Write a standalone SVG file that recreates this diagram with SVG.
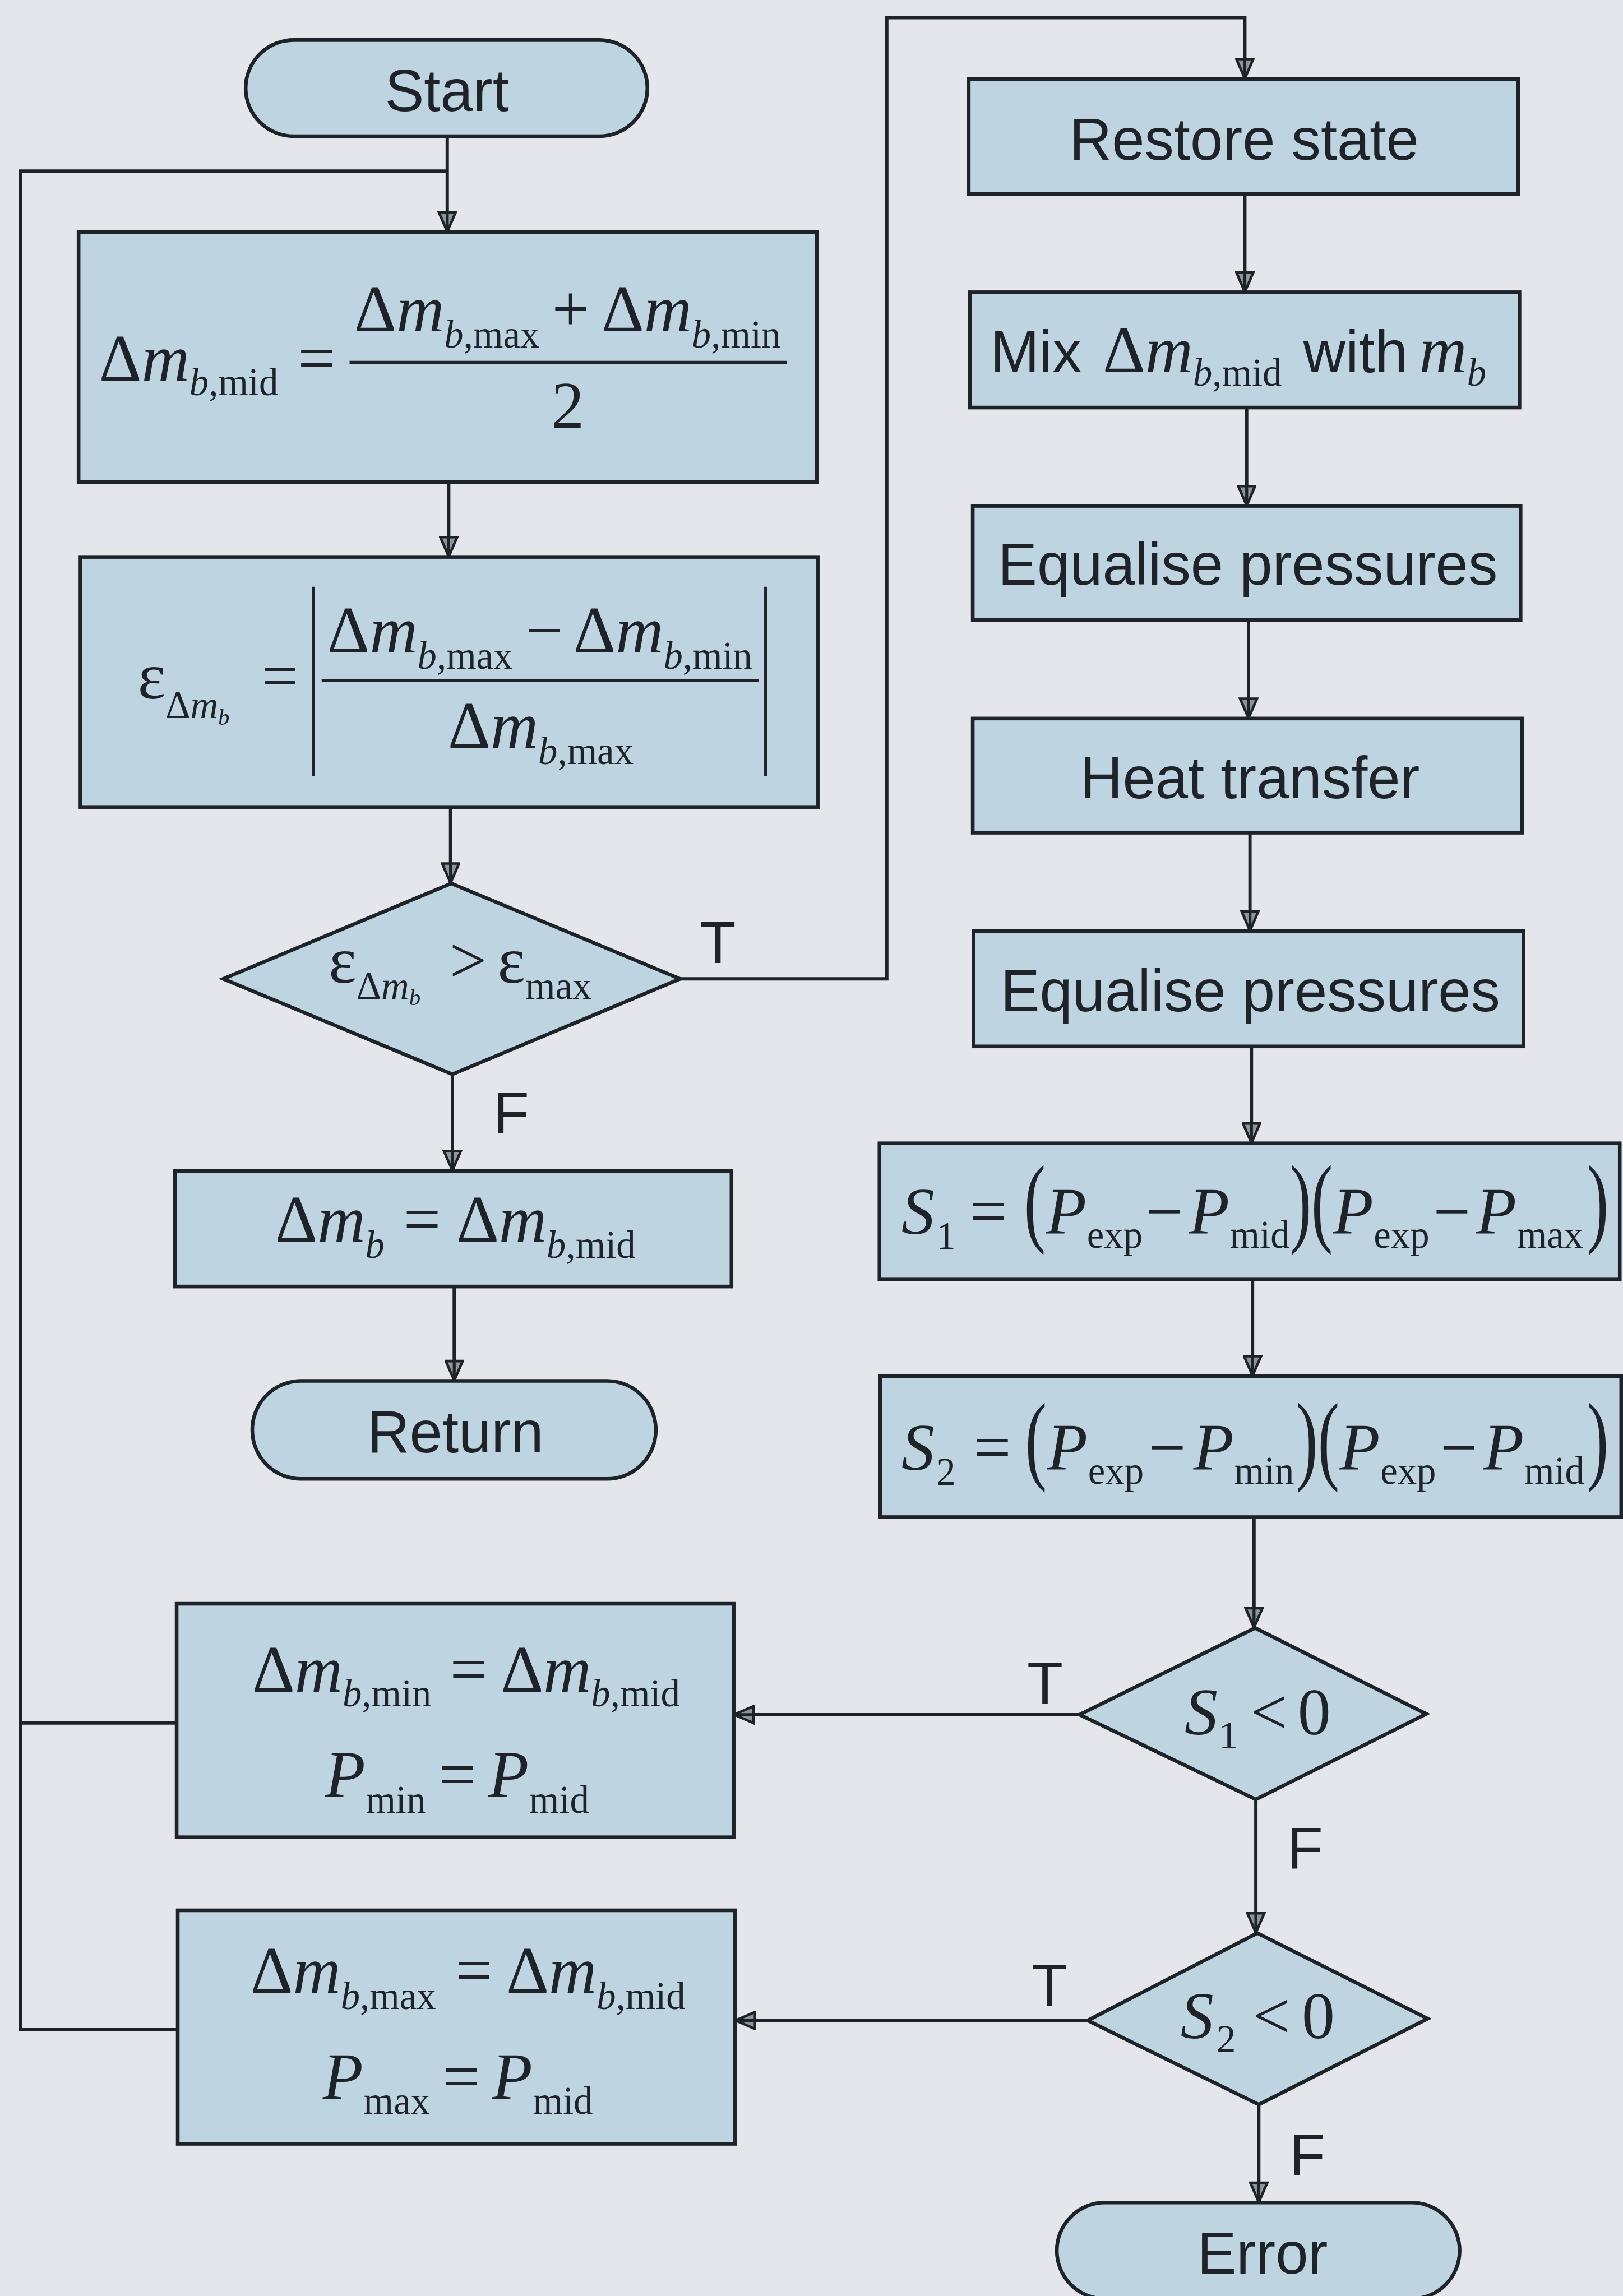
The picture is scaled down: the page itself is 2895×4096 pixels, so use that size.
<svg xmlns="http://www.w3.org/2000/svg" width="2895" height="4096" viewBox="0 0 2895 4096">
<defs>
<style>
.nd{fill:#bed4e0;stroke:#1e2329;stroke-width:10}
.a{font-family:"Liberation Sans",Arial,sans-serif;font-size:160px;fill:#1e2329}
.m{font-family:"Liberation Serif","Times New Roman",serif;font-size:180px;fill:#1e2329}
.s{font-size:105px}
.ss{font-size:62px}
.i{font-style:italic}
.p{font-family:"Liberation Serif","Times New Roman",serif;font-size:270px;fill:#1e2329}
.bar{stroke:#1e2329;stroke-width:8;fill:none}
</style>
<marker id="ah" viewBox="0 0 60 54" refX="58" refY="27" markerWidth="60" markerHeight="54" orient="auto" markerUnits="userSpaceOnUse">
<path d="M4,4 L57,27 L4,50 Z" fill="#8f959c" stroke="#1e2329" stroke-width="7" stroke-linejoin="miter"/>
<path d="M2,27 H54" stroke="#1e2329" stroke-width="8"/>
</marker>
</defs>
<g transform="scale(0.655)">
<rect x="0" y="0" width="4420" height="6254" fill="#e5e6eb"/>

<g id="connectors" fill="none" stroke="#1e2329" stroke-width="9">
<path d="M1218,371 V632" marker-end="url(#ah)"/>
<path d="M1218,466 H56 V5528 H484"/>
<path d="M481,4693 H56"/>
<path d="M1222,1313 V1517" marker-end="url(#ah)"/>
<path d="M1227,2198 V2406" marker-end="url(#ah)"/>
<path d="M1852,2666 H2415 V48 H3390 V215" marker-end="url(#ah)"/>
<path d="M1232,2926 V3189" marker-end="url(#ah)"/>
<path d="M1237,3504 V3761" marker-end="url(#ah)"/>
<path d="M3390,528 V796" marker-end="url(#ah)"/>
<path d="M3395,1110 V1378" marker-end="url(#ah)"/>
<path d="M3400,1689 V1957" marker-end="url(#ah)"/>
<path d="M3404,2268 V2536" marker-end="url(#ah)"/>
<path d="M3408,2850 V3114" marker-end="url(#ah)"/>
<path d="M3411,3485 V3748" marker-end="url(#ah)"/>
<path d="M3415,4132 V4434" marker-end="url(#ah)"/>
<path d="M2940,4670 H1998" marker-end="url(#ah)"/>
<path d="M3420,4901 V5265" marker-end="url(#ah)"/>
<path d="M2962,5503 H2002" marker-end="url(#ah)"/>
<path d="M3428,5732 V5999" marker-end="url(#ah)"/>
</g>

<g id="labels">
<text class="a" x="1906" y="2623">T</text>
<text class="a" x="1343" y="3087">F</text>
<text class="a" x="2797" y="4640">T</text>
<text class="a" x="3505" y="5090">F</text>
<text class="a" x="2809" y="5462">T</text>
<text class="a" x="3511" y="5925">F</text>
</g>

<g id="start">
<rect class="nd" x="669" y="109" width="1094" height="262" rx="131"/>
<text class="a" x="1217" y="302" text-anchor="middle">Start</text>
</g>

<g id="mid-calc">
<rect class="nd" x="214" y="632" width="2010" height="681"/>
<line class="bar" x1="952" y1="987" x2="2143" y2="987"/>
<text class="m"><tspan x="270" y="1036">Δ</tspan><tspan class="i">m</tspan><tspan class="s i" dy="40">b</tspan><tspan class="s">,mid</tspan><tspan x="811" y="1036">=</tspan><tspan x="964" y="902">Δ</tspan><tspan class="i">m</tspan><tspan class="s i" dy="44">b</tspan><tspan class="s">,max</tspan><tspan x="1503" y="902">+</tspan><tspan x="1638" y="902">Δ</tspan><tspan class="i">m</tspan><tspan class="s i" dy="44">b</tspan><tspan class="s">,min</tspan><tspan x="1501" y="1165">2</tspan></text>
</g>

<g id="error-calc">
<rect class="nd" x="219" y="1517" width="2008" height="681"/>
<line class="bar" x1="853" y1="1598" x2="853" y2="2113"/>
<line class="bar" x1="2085" y1="1598" x2="2085" y2="2113"/>
<line class="bar" x1="876" y1="1853" x2="2066" y2="1853"/>
<text class="m"><tspan x="375" y="1902">ε</tspan><tspan class="s" dy="54">Δ</tspan><tspan class="s i">m</tspan><tspan class="ss i" dy="18">b</tspan><tspan x="712" y="1902">=</tspan><tspan x="891" y="1777">Δ</tspan><tspan class="i">m</tspan><tspan class="s i" dy="44">b</tspan><tspan class="s">,max</tspan><tspan x="1431" y="1777">−</tspan><tspan x="1561" y="1777">Δ</tspan><tspan class="i">m</tspan><tspan class="s i" dy="44">b</tspan><tspan class="s">,min</tspan><tspan x="1220" y="2037">Δ</tspan><tspan class="i">m</tspan><tspan class="s i" dy="44">b</tspan><tspan class="s">,max</tspan></text>
</g>

<g id="check-error">
<polygon class="nd" points="608,2666 1229,2406 1852,2666 1232,2926"/>
<text class="m"><tspan x="895" y="2677">ε</tspan><tspan class="s" dy="43">Δ</tspan><tspan class="s i">m</tspan><tspan class="ss i" dy="18">b</tspan><tspan x="1224" y="2677">&gt;</tspan><tspan x="1355" y="2677">ε</tspan><tspan class="s" dy="43">max</tspan></text>
</g>

<g id="assign-mid">
<rect class="nd" x="476" y="3189" width="1516" height="315"/>
<text class="m"><tspan x="749" y="3382">Δ</tspan><tspan class="i">m</tspan><tspan class="s i" dy="44">b</tspan><tspan x="1099" y="3382">=</tspan><tspan x="1243" y="3382">Δ</tspan><tspan class="i">m</tspan><tspan class="s i" dy="44">b</tspan><tspan class="s">,mid</tspan></text>
</g>

<g id="return">
<rect class="nd" x="687" y="3761" width="1099" height="267" rx="133"/>
<text class="a" x="1240" y="3956" text-anchor="middle">Return</text>
</g>

<g id="restore">
<rect class="nd" x="2638" y="215" width="1496" height="313"/>
<text class="a" x="3388" y="435" text-anchor="middle">Restore state</text>
</g>

<g id="mix">
<rect class="nd" x="2641" y="796" width="1497" height="314"/>
<text class="a"><tspan x="2697" y="1013">Mix</tspan><tspan class="m" x="3003" y="1013">Δ</tspan><tspan class="m i">m</tspan><tspan class="m s i" dy="37">b</tspan><tspan class="m s">,mid</tspan><tspan x="3549" y="1013">with</tspan><tspan class="m i" x="3865" y="1013">m</tspan><tspan class="m s i" dy="37">b</tspan></text>
</g>

<g id="equalise1">
<rect class="nd" x="2649" y="1378" width="1492" height="311"/>
<text class="a" x="3398" y="1593" text-anchor="middle">Equalise pressures</text>
</g>

<g id="heat">
<rect class="nd" x="2649" y="1957" width="1496" height="311"/>
<text class="a" x="3404" y="2174" text-anchor="middle">Heat transfer</text>
</g>

<g id="equalise2">
<rect class="nd" x="2651" y="2536" width="1498" height="314"/>
<text class="a" x="3405" y="2754" text-anchor="middle">Equalise pressures</text>
</g>

<g id="s1-calc">
<rect class="nd" x="2395" y="3114" width="2016" height="371"/>
<text class="m"><tspan class="i" x="2455" y="3360">S</tspan><tspan class="s" x="2550" y="3402">1</tspan><tspan x="2640" y="3360">=</tspan><tspan class="i" x="2849" y="3360">P</tspan><tspan class="s" x="2960" y="3398">exp</tspan><tspan x="3120" y="3360">−</tspan><tspan class="i" x="3238" y="3360">P</tspan><tspan class="s" x="3349" y="3398">mid</tspan><tspan class="i" x="3630" y="3360">P</tspan><tspan class="s" x="3741" y="3398">exp</tspan><tspan x="3903" y="3360">−</tspan><tspan class="i" x="4020" y="3360">P</tspan><tspan class="s" x="4131" y="3398">max</tspan></text>
<text class="p" transform="translate(2789,3361) scale(0.65,1)">(</text>
<text class="p" transform="translate(3513,3361) scale(0.65,1)">)</text>
<text class="p" transform="translate(3571,3361) scale(0.65,1)">(</text>
<text class="p" transform="translate(4322,3361) scale(0.65,1)">)</text>
</g>

<g id="s2-calc">
<rect class="nd" x="2397" y="3748" width="2018" height="384"/>
<text class="m"><tspan class="i" x="2455" y="4003">S</tspan><tspan class="s" x="2550" y="4045">2</tspan><tspan x="2652" y="4003">=</tspan><tspan class="i" x="2852" y="4003">P</tspan><tspan class="s" x="2963" y="4041">exp</tspan><tspan x="3128" y="4003">−</tspan><tspan class="i" x="3250" y="4003">P</tspan><tspan class="s" x="3361" y="4041">min</tspan><tspan class="i" x="3648" y="4003">P</tspan><tspan class="s" x="3759" y="4041">exp</tspan><tspan x="3922" y="4003">−</tspan><tspan class="i" x="4040" y="4003">P</tspan><tspan class="s" x="4151" y="4041">mid</tspan></text>
<text class="p" transform="translate(2792,4008) scale(0.65,1)">(</text>
<text class="p" transform="translate(3530,4008) scale(0.65,1)">)</text>
<text class="p" transform="translate(3589,4008) scale(0.65,1)">(</text>
<text class="p" transform="translate(4322,4008) scale(0.65,1)">)</text>
</g>

<g id="check-s1">
<polygon class="nd" points="2940,4670 3418,4434 3884,4668 3420,4901"/>
<text class="m"><tspan class="i" x="3226" y="4723">S</tspan><tspan class="s" x="3319" y="4762">1</tspan><tspan x="3405" y="4723">&lt;</tspan><tspan x="3534" y="4723">0</tspan></text>
</g>

<g id="check-s2">
<polygon class="nd" points="2962,5503 3424,5265 3888,5498 3428,5732"/>
<text class="m"><tspan class="i" x="3215" y="5551">S</tspan><tspan class="s" x="3313" y="5590">2</tspan><tspan x="3411" y="5551">&lt;</tspan><tspan x="3545" y="5551">0</tspan></text>
</g>

<g id="error">
<rect class="nd" x="2878" y="5999" width="1097" height="262" rx="131"/>
<text class="a" x="3438" y="6192" text-anchor="middle">Error</text>
</g>

<g id="set-min">
<rect class="nd" x="481" y="4368" width="1517" height="636"/>
<text class="m"><tspan x="687" y="4607">Δ</tspan><tspan class="i">m</tspan><tspan class="s i" dy="40">b</tspan><tspan class="s">,min</tspan><tspan x="1225" y="4607">=</tspan><tspan x="1364" y="4607">Δ</tspan><tspan class="i">m</tspan><tspan class="s i" dy="40">b</tspan><tspan class="s">,mid</tspan><tspan class="i" x="885" y="4894">P</tspan><tspan class="s" x="996" y="4937">min</tspan><tspan x="1195" y="4894">=</tspan><tspan class="i" x="1330" y="4894">P</tspan><tspan class="s" x="1441" y="4937">mid</tspan></text>
</g>

<g id="set-max">
<rect class="nd" x="484" y="5203" width="1518" height="636"/>
<text class="m"><tspan x="682" y="5428">Δ</tspan><tspan class="i">m</tspan><tspan class="s i" dy="44">b</tspan><tspan class="s">,max</tspan><tspan x="1240" y="5428">=</tspan><tspan x="1379" y="5428">Δ</tspan><tspan class="i">m</tspan><tspan class="s i" dy="44">b</tspan><tspan class="s">,mid</tspan><tspan class="i" x="879" y="5718">P</tspan><tspan class="s" x="990" y="5758">max</tspan><tspan x="1205" y="5718">=</tspan><tspan class="i" x="1340" y="5718">P</tspan><tspan class="s" x="1451" y="5758">mid</tspan></text>
</g>
</g>
</svg>
